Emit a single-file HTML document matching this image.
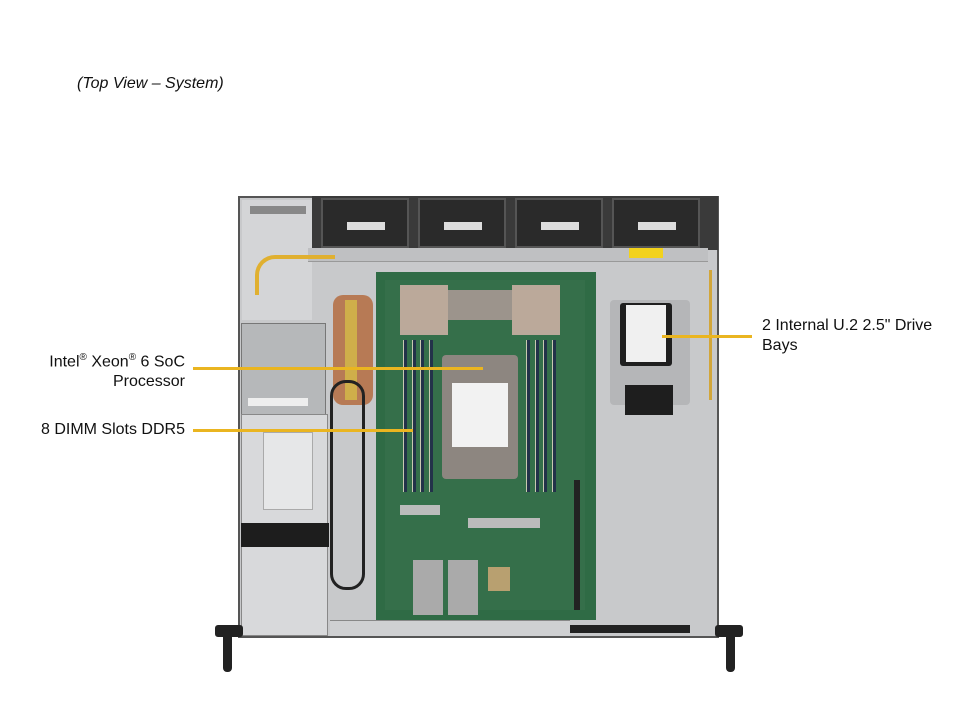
<!DOCTYPE html>
<html><head><style>
*{margin:0;padding:0;box-sizing:border-box}
body{width:960px;height:720px;background:#fff;position:relative;overflow:hidden;font-family:"Liberation Sans",sans-serif;color:#111}
div{position:absolute}
.t{font-size:16px;white-space:nowrap;line-height:20px}
.ln{height:3px;background:#eab520}
.fan{top:198px;width:88px;height:50px;background:#2a2a2a;border:2px solid #555}
.fan i{position:absolute;left:24px;top:22px;width:38px;height:8px;background:#ddd}
.dimm{width:4px;background:#23324a;border-left:1px solid #c9c9b0}
</style></head><body>
<div class="t" style="left:77px;top:74px;font-style:italic;font-size:16px">(Top View – System)</div>
<div class="t" style="right:775px;top:348px;text-align:right">Intel<sup style="font-size:10px">®</sup> Xeon<sup style="font-size:10px">®</sup> 6 SoC<br>Processor</div>
<div class="t" style="right:775px;top:420px">8 DIMM Slots DDR5</div>
<div class="t" style="left:762px;top:316px">2 Internal U.2 2.5" Drive<br>Bays</div>

<!-- chassis -->
<div style="left:238px;top:196px;width:481px;height:442px;background:#c8c9cb;border:2px solid #555"></div>
<div style="left:242px;top:200px;width:70px;height:120px;background:#d4d5d7"></div>
<div style="left:250px;top:206px;width:56px;height:8px;background:#888"></div>
<div style="left:312px;top:196px;width:406px;height:54px;background:#3a3a3a"></div>
<div class="fan" style="left:321px"><i></i></div>
<div class="fan" style="left:418px"><i></i></div>
<div class="fan" style="left:515px"><i></i></div>
<div class="fan" style="left:612px"><i></i></div>
<div style="left:308px;top:248px;width:400px;height:14px;background:#bfc0c2;border-bottom:1px solid #999"></div>
<div style="left:629px;top:248px;width:34px;height:10px;background:#f2d21c"></div>
<!-- cables left -->
<div style="left:255px;top:255px;width:80px;height:40px;border:4px solid #e0b030;border-radius:20px 0 0 0;border-right:none;border-bottom:none"></div>
<div style="left:333px;top:295px;width:40px;height:110px;background:#b77a55;border-radius:10px"></div>
<div style="left:345px;top:300px;width:12px;height:100px;background:#cfae4a"></div>
<!-- PSU -->
<div style="left:241px;top:323px;width:85px;height:92px;background:#b6b8ba;border:1px solid #777"></div>
<div style="left:248px;top:398px;width:60px;height:8px;background:#eee"></div>
<div style="left:241px;top:414px;width:87px;height:222px;background:#d8d9db;border:1px solid #888"></div>
<div style="left:263px;top:432px;width:50px;height:78px;background:#e6e7e8;border:1px solid #aaa"></div>
<div style="left:241px;top:523px;width:88px;height:24px;background:#1d1d1d"></div>
<div style="left:330px;top:380px;width:35px;height:210px;border:3px solid #222;border-radius:16px"></div>
<!-- motherboard -->
<div style="left:376px;top:272px;width:220px;height:348px;background:#2f6b45"></div>
<div style="left:385px;top:280px;width:200px;height:330px;background:#356f4a"></div>
<!-- heatpipe block -->
<div style="left:400px;top:285px;width:48px;height:50px;background:#bba99a"></div>
<div style="left:512px;top:285px;width:48px;height:50px;background:#bba99a"></div>
<div style="left:448px;top:290px;width:64px;height:30px;background:#9c948c"></div>
<!-- dimms -->
<div style="left:403px;top:340px;width:30px;height:152px;display:flex;justify-content:space-between">
<div class="dimm" style="position:static;height:152px"></div><div class="dimm" style="position:static;height:152px"></div><div class="dimm" style="position:static;height:152px"></div><div class="dimm" style="position:static;height:152px"></div></div>
<div style="left:526px;top:340px;width:30px;height:152px;display:flex;justify-content:space-between">
<div class="dimm" style="position:static;height:152px"></div><div class="dimm" style="position:static;height:152px"></div><div class="dimm" style="position:static;height:152px"></div><div class="dimm" style="position:static;height:152px"></div></div>
<!-- heatsink -->
<div style="left:442px;top:355px;width:76px;height:124px;background:#8d8680;border-radius:4px"></div>
<div style="left:452px;top:383px;width:56px;height:64px;background:#f2f2f2"></div>
<!-- lower board parts -->
<div style="left:400px;top:505px;width:40px;height:10px;background:#bbb"></div>
<div style="left:468px;top:518px;width:72px;height:10px;background:#bbb"></div>
<div style="left:413px;top:560px;width:30px;height:55px;background:#aaa"></div>
<div style="left:448px;top:560px;width:30px;height:55px;background:#aaa"></div>
<div style="left:488px;top:567px;width:22px;height:24px;background:#b8a070"></div>
<div style="left:574px;top:480px;width:6px;height:130px;background:#222"></div>
<!-- drive -->
<div style="left:610px;top:300px;width:80px;height:105px;background:#b5b6b8;border-radius:4px"></div>
<div style="left:620px;top:303px;width:52px;height:63px;background:#1f1f1f;border-radius:3px"></div>
<div style="left:626px;top:305px;width:40px;height:57px;background:#f0f0f0"></div>
<div style="left:625px;top:385px;width:48px;height:30px;background:#1e1e1e"></div>
<div style="left:700px;top:270px;width:12px;height:130px;border-right:3px solid #d2a63a"></div>
<!-- front -->
<div style="left:330px;top:620px;width:240px;height:16px;background:#cfd0d2;border-top:1px solid #888"></div>
<div style="left:570px;top:625px;width:120px;height:8px;background:#222"></div>
<div style="left:215px;top:625px;width:28px;height:12px;background:#222;border-radius:3px"></div>
<div style="left:223px;top:630px;width:9px;height:42px;background:#222;border-radius:4px"></div>
<div style="left:715px;top:625px;width:28px;height:12px;background:#222;border-radius:3px"></div>
<div style="left:726px;top:630px;width:9px;height:42px;background:#222;border-radius:4px"></div>
<!-- leader lines -->
<div class="ln" style="left:193px;top:367px;width:290px"></div>
<div class="ln" style="left:193px;top:429px;width:220px"></div>
<div class="ln" style="left:662px;top:335px;width:90px"></div>
</body></html>
